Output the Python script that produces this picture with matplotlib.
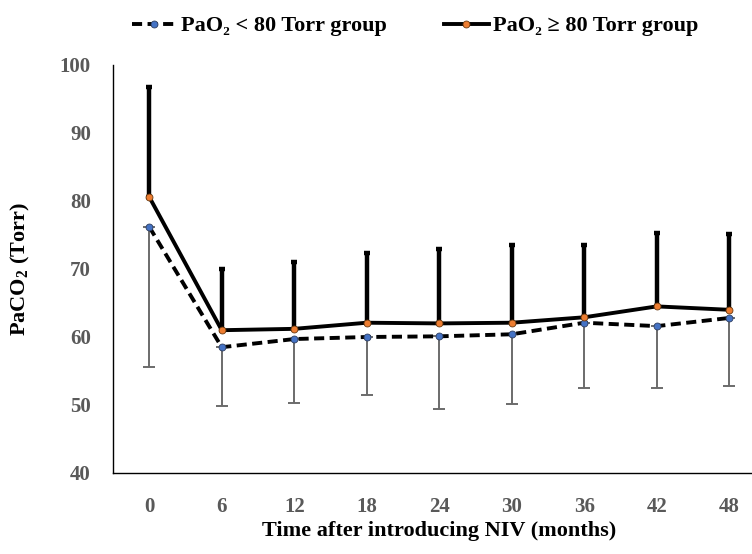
import matplotlib
matplotlib.use("Agg")
import matplotlib.pyplot as plt
import numpy as np

months = ["0", "6", "12", "18", "24", "30", "36", "42", "48"]
low_mean = [76.2, 58.5, 59.7, 60.0, 60.1, 60.4, 62.1, 61.6, 62.8]
low_lower = [55.6, 49.8, 50.3, 51.4, 49.4, 50.2, 52.5, 52.5, 52.8]
high_mean = [80.6, 61.0, 61.2, 62.1, 62.0, 62.1, 62.9, 64.5, 64.0]
high_upper = [96.8, 70.0, 71.0, 72.3, 72.9, 73.5, 73.6, 75.3, 75.2]
yticks = [40, 50, 60, 70, 80, 90, 100]

plt.rcParams['font.family'] = ['Liberation Serif', 'DejaVu Serif']
plt.rcParams['font.weight'] = 'bold'
plt.rcParams['mathtext.fontset'] = 'custom'
plt.rcParams['mathtext.rm'] = 'Liberation Serif:bold'
plt.rcParams['mathtext.bf'] = 'Liberation Serif:bold'

fig = plt.figure(figsize=(7.52, 5.54), dpi=100)
ax = fig.add_axes([113/752, 81/554, 652.5/752, 408/554])

x = np.arange(len(months))
low_err = np.array(low_mean) - np.array(low_lower)
high_err = np.array(high_upper) - np.array(high_mean)

ax.errorbar(x, low_mean, yerr=[low_err, np.zeros_like(low_err)], fmt='none',
            ecolor='#6b6b6b', elinewidth=1.4, capsize=4.5, capthick=1.4, zorder=2)
ax.errorbar(x, high_mean, yerr=[np.zeros_like(high_err), high_err], fmt='none',
            ecolor='black', elinewidth=3.2, capsize=2.5, capthick=3.2, zorder=2)

l1, = ax.plot(x, low_mean, color='black', lw=2.8, ls=(0, (2.6, 1.4)), zorder=3,
              marker='o', markersize=5, markerfacecolor='#4472C4',
              markeredgecolor='#2f3f60', markeredgewidth=0.6,
              label='PaO\u2082 < 80 Torr group')
l2, = ax.plot(x, high_mean, color='black', lw=2.8, zorder=3,
              marker='o', markersize=5, markerfacecolor='#ED7D31',
              markeredgecolor='#6a3a10', markeredgewidth=0.6,
              label='PaO\u2082 \u2265 80 Torr group')

ax.set_xlim(-0.5, len(months) - 0.5)
ax.set_ylim(40, 100)
ax.set_xticks(x)
ax.set_xticklabels(months)
ax.set_yticks(yticks)
ax.tick_params(axis='both', length=0, labelsize=15, labelcolor='#595959')
ax.tick_params(axis='y', pad=16)
ax.tick_params(axis='x', pad=17)
for lab in ax.get_xticklabels() + ax.get_yticklabels():
    lab.set_fontweight('bold')

for s in ['top', 'right']:
    ax.spines[s].set_visible(False)
for s in ['left', 'bottom']:
    ax.spines[s].set_linewidth(1.0)
    ax.spines[s].set_color('black')

fig.text(439/752, 1 - 531/554, 'Time after introducing NIV (months)', fontsize=16,
         fontweight='bold', ha='center', va='center')
ax.set_ylabel(r'PaCO$_2$ (Torr)', fontsize=16, fontweight='bold', labelpad=20)

fig.legend(handles=[l1, l2], loc='center', bbox_to_anchor=(0.552, 0.953),
           ncol=2, frameon=False, prop={'size': 16, 'weight': 'bold'},
           handlelength=2.0, handletextpad=0.2, columnspacing=2.6)

fig.savefig('out.png', dpi=100)
